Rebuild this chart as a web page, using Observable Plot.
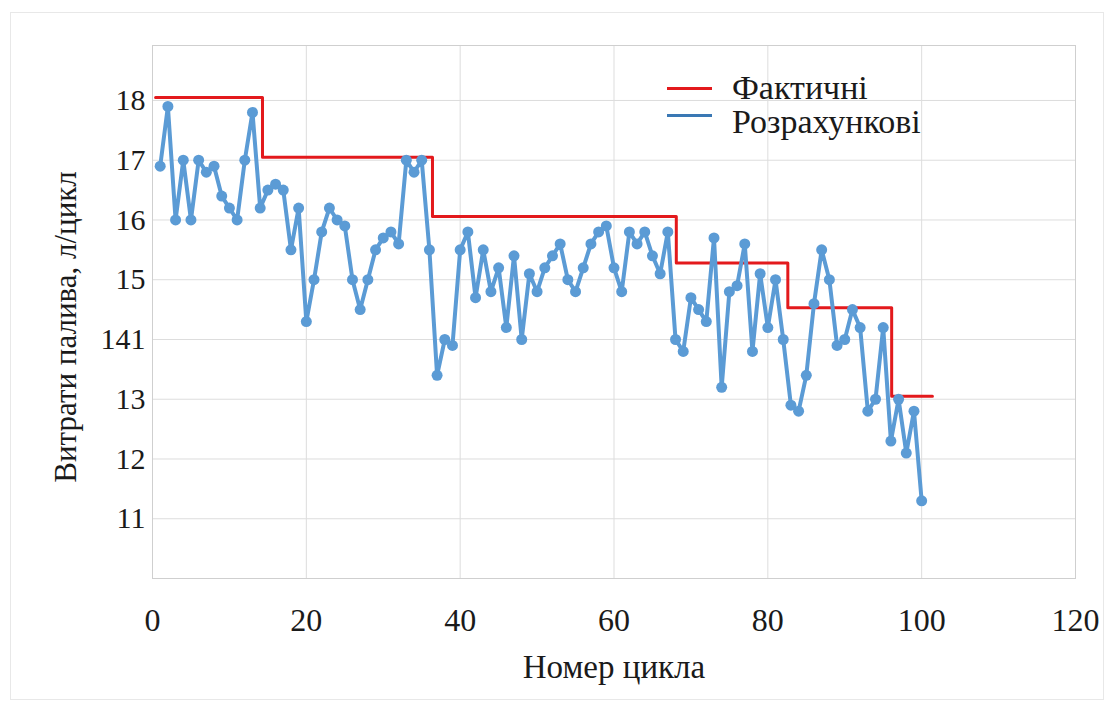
<!DOCTYPE html>
<html>
<head>
<meta charset="utf-8">
<script src="https://cdn.jsdelivr.net/npm/d3@7"></script>
<script src="https://cdn.jsdelivr.net/npm/@observablehq/plot@0.6"></script>
<style>
  body { margin: 0; background: #fff; }
  #wrap { position: relative; width: 1115px; height: 707px; font-family: "Liberation Serif", "Times New Roman", "DejaVu Serif", serif; color: #1a1a1a; }
  #chart svg, #chart svg text { font-family: "Liberation Serif", "Times New Roman", "DejaVu Serif", serif !important; }
  #border { position: absolute; left: 10px; top: 12px; width: 1094px; height: 688px; border: 1px solid #e8e8e8; box-sizing: border-box; pointer-events: none; }
  .leg { position: absolute; left: 667px; display: flex; align-items: center; font-size: 34px; line-height: 34px; white-space: nowrap; }
  .leg .sw { width: 45px; height: 3px; margin-right: 20px; position: relative; }
</style>
</head>
<body>
<div id="wrap">
  <div id="chart"></div>
  <div id="border"></div>
  <div id="legend"></div>
</div>
<script>
// ---- data ----
const cycleNumbers = d3.range(1, 101);
const calculatedFuel = [
  16.9, 17.9, 16.0, 17.0, 16.0, 17.0, 16.8, 16.9, 16.4, 16.2,
  16.0, 17.0, 17.8, 16.2, 16.5, 16.6, 16.5, 15.5, 16.2, 14.3,
  15.0, 15.8, 16.2, 16.0, 15.9, 15.0, 14.5, 15.0, 15.5, 15.7,
  15.8, 15.6, 17.0, 16.8, 17.0, 15.5, 13.4, 14.0, 13.9, 15.5,
  15.8, 14.7, 15.5, 14.8, 15.2, 14.2, 15.4, 14.0, 15.1, 14.8,
  15.2, 15.4, 15.6, 15.0, 14.8, 15.2, 15.6, 15.8, 15.9, 15.2,
  14.8, 15.8, 15.6, 15.8, 15.4, 15.1, 15.8, 14.0, 13.8, 14.7,
  14.5, 14.3, 15.7, 13.2, 14.8, 14.9, 15.6, 13.8, 15.1, 14.2,
  15.0, 14.0, 12.9, 12.8, 13.4, 14.6, 15.5, 15.0, 13.9, 14.0,
  14.5, 14.2, 12.8, 13.0, 14.2, 12.3, 13.0, 12.1, 12.8, 11.3
];
// actual (step) series: breakpoints and levels
const actualStepX = [0.4, 14.3, 36.4, 68.1, 82.6, 96.1, 101.4];
const actualStepY = [18.05, 17.05, 16.06, 15.28, 14.53, 13.05, 13.05];

const xTicks = [0, 20, 40, 60, 80, 100, 120];
const yTicks = [11, 12, 13, 14, 15, 16, 17, 18];
const yTickLabels = ["11", "12", "13", "141", "15", "16", "17", "18"];

const seriesNames = ["Фактичні", "Розрахункові"];
const seriesColors = ["#e3191c", "#5b9bd5"];
const legendSwatchColors = ["#e3191c", "#3a78b4"];

const serifStack = '"Liberation Serif", "Times New Roman", "DejaVu Serif", serif';

// ---- build tables ----
const calcData = cycleNumbers.map((c, i) => ({x: c, y: calculatedFuel[i]}));
const actualData = actualStepX.map((x, i) => ({x, y: actualStepY[i]}));

const chart = Plot.plot({
  width: 1115,
  height: 707,
  marginLeft: 152,
  marginRight: 40,
  marginTop: 45,
  marginBottom: 129,
  style: {fontFamily: serifStack, fontSize: "30px", color: "#1a1a1a", background: "transparent"},
  x: {domain: [0, 120]},
  y: {domain: [10, 18.92]},
  marks: [
    Plot.gridX(xTicks, {stroke: "#dddddd", strokeOpacity: 1, strokeWidth: 1}),
    Plot.gridY(yTicks, {stroke: "#dddddd", strokeOpacity: 1, strokeWidth: 1}),
    Plot.frame({stroke: "#cfcfcf", strokeWidth: 1}),
    Plot.axisX({ticks: xTicks, tickSize: 0, tickPadding: 30, fontSize: 32, label: "Номер цикла", labelAnchor: "center", labelArrow: "none", labelOffset: 99}),
    Plot.axisY({ticks: yTicks, tickSize: 0, tickPadding: 7, fontSize: 30, tickFormat: (d) => yTickLabels[yTicks.indexOf(d)], label: "Витрати палива, л/цикл", labelAnchor: "center", labelArrow: "none", labelOffset: 99}),
    Plot.line(actualData, {x: "x", y: "y", curve: "step-after", stroke: seriesColors[0], strokeWidth: 3}),
    Plot.line(calcData, {x: "x", y: "y", stroke: seriesColors[1], strokeWidth: 4}),
    Plot.dot(calcData, {x: "x", y: "y", r: 5.5, fill: seriesColors[1], stroke: "none"})
  ]
});
document.getElementById("chart").appendChild(chart);

chart.querySelectorAll("text").forEach(t => t.setAttribute("font-family", serifStack));
chart.querySelectorAll("[aria-label='x-axis label'] text").forEach(t => t.setAttribute("font-size", "33"));
chart.querySelectorAll("[aria-label='y-axis label'] text").forEach(t => {
  t.setAttribute("font-size", "31");
  t.setAttribute("dx", "-15");
});

// legend
const legend = document.getElementById("legend");
const legendTops = [71, 105];
const swatchShift = [0, -7];
seriesNames.forEach((name, i) => {
  const item = document.createElement("div");
  item.className = "leg";
  item.style.top = legendTops[i] + "px";
  const sw = document.createElement("div");
  sw.className = "sw";
  sw.style.background = legendSwatchColors[i];
  sw.style.top = swatchShift[i] + "px";
  const tx = document.createElement("span");
  tx.textContent = name;
  item.appendChild(sw);
  item.appendChild(tx);
  legend.appendChild(item);
});
</script>
</body>
</html>
